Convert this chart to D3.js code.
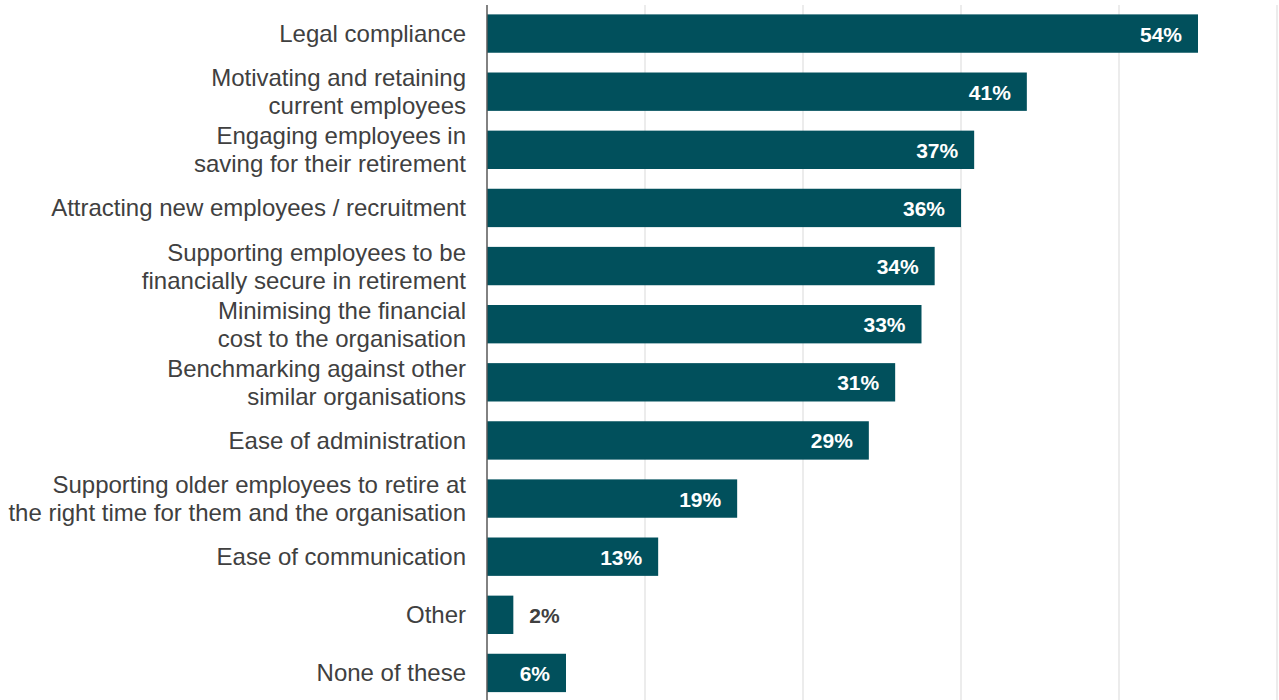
<!DOCTYPE html>
<html>
<head>
<meta charset="utf-8">
<script src="https://cdn.jsdelivr.net/npm/d3@7"></script>
<style>
  html, body { margin: 0; padding: 0; background: #fff; }
  svg { display: block; }
</style>
</head>
<body>
<svg id="chart" width="1279" height="700"></svg>
<script>
// Reasons for offering a pension scheme (share of organisations)
const categories = [
  ["Legal compliance"],
  ["Motivating and retaining", "current employees"],
  ["Engaging employees in", "saving for their retirement"],
  ["Attracting new employees / recruitment"],
  ["Supporting employees to be", "financially secure in retirement"],
  ["Minimising the financial", "cost to the organisation"],
  ["Benchmarking against other", "similar organisations"],
  ["Ease of administration"],
  ["Supporting older employees to retire at", "the right time for them and the organisation"],
  ["Ease of communication"],
  ["Other"],
  ["None of these"]
];
const values = [54, 41, 37, 36, 34, 33, 31, 29, 19, 13, 2, 6];
const gridTicks = [12, 24, 36, 48, 60];

const svg = d3.select("#chart");
const x0 = 487, x1 = 1277;
const x = d3.scaleLinear().domain([0, 60]).range([x0, x1]);
const y = d3.scaleBand()
  .domain(d3.range(categories.length))
  .range([4.5, 702])
  .paddingInner(0.34)
  .paddingOuter(0.17);

const barColor = "#01505C";
const textColor = "#404040";
const font = "'Liberation Sans', Arial, sans-serif";

// gridlines
svg.append("g").selectAll("line").data(gridTicks).join("line")
  .attr("x1", d => x(d)).attr("x2", d => x(d))
  .attr("y1", 5).attr("y2", 700)
  .attr("stroke", "#D9D9D9").attr("stroke-width", 1);

// bars
svg.append("g").selectAll("rect").data(values).join("rect")
  .attr("x", x(0))
  .attr("y", (d, i) => y(i))
  .attr("width", d => x(d) - x(0))
  .attr("height", y.bandwidth())
  .attr("fill", barColor);

// value labels: inside the bar end, or just past it when the bar is short
const inside = d => x(d) - x(0) > 40;
svg.append("g").selectAll("text").data(values).join("text")
  .attr("x", d => inside(d) ? x(d) - 16 : x(d) + 16)
  .attr("y", (d, i) => y(i) + y.bandwidth() / 2)
  .attr("dy", "0.38em")
  .attr("text-anchor", d => inside(d) ? "end" : "start")
  .attr("fill", d => inside(d) ? "#fff" : textColor)
  .attr("font-family", font)
  .attr("font-weight", "bold")
  .attr("font-size", 21)
  .text(d => d + "%");

// category labels
const lab = svg.append("g").selectAll("text").data(categories).join("text")
  .attr("text-anchor", "end")
  .attr("fill", textColor)
  .attr("font-family", font)
  .attr("font-size", 24)
  .attr("y", (d, i) => y(i) + y.bandwidth() / 2);
lab.each(function(lines) {
  const t = d3.select(this);
  const lh = 28;
  const start = -(lines.length - 1) * lh / 2;
  lines.forEach((ln, k) => {
    t.append("tspan")
      .attr("x", 466)
      .attr("dy", k === 0 ? (start + 8.5) : lh)
      .text(ln);
  });
});

// category axis line
svg.append("line")
  .attr("x1", x0).attr("x2", x0)
  .attr("y1", 5).attr("y2", 700)
  .attr("stroke", "#595959").attr("stroke-width", 1.5);
</script>
</body>
</html>
